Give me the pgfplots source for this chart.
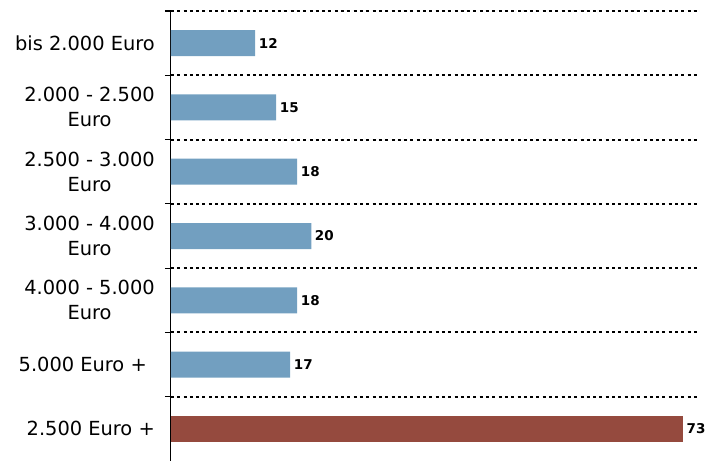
\documentclass[border=0pt]{standalone}
\usepackage{pgfplots}
\pgfplotsset{compat=1.18}
\usepackage{fontspec}
\setmainfont{DejaVu Sans}
\definecolor{barblue}{RGB}{114,159,192}
\definecolor{barred}{RGB}{149,74,62}
\begin{document}
\begin{tikzpicture}
\begin{axis}[
  at={(0,0)}, anchor=south west,
  scale only axis, width=526bp, height=450bp,
  /pgf/number format/assume math mode=true,
  xbar, bar width=26bp, bar shift=0pt,
  xmin=0, xmax=75, ymin=-0.5, ymax=6.5, y dir=reverse,
  hide x axis,
  axis y line*=left,
  y axis line style={line width=1bp, black},
  ytick={0,1,2,3,4,5,6},
  yticklabels={bis 2.000 Euro, {2.000 - 2.500\\Euro}, {2.500 - 3.000\\Euro}, {3.000 - 4.000\\Euro}, {4.000 - 5.000\\Euro}, {5.000 Euro +\hspace*{8bp}}, {2.500 Euro +}},
  yticklabel style={font=\fontsize{19.4bp}{25bp}\selectfont, align=center, inner sep=0pt, xshift=-16bp, text=black},
  major tick length=0pt,
  minor ytick={-0.5,0.5,1.5,2.5,3.5,4.5,5.5},
  minor tick length=6bp,
  tick align=outside,
  tick style={black, line width=1.2bp},
  yminorgrids,
  minor grid style={black, line width=2bp, dash pattern=on 3bp off 3.3bp},
  nodes near coords,
  nodes near coords style={font=\bfseries\fontsize{13.5bp}{16bp}\selectfont, anchor=west, inner sep=0pt, xshift=3.5bp, text=black},
  clip=false,
]
\addplot[fill=barblue, draw=none] coordinates {(12,0) (15,1) (18,2) (20,3) (18,4) (17,5)};
\addplot[fill=barred, draw=none] coordinates {(73,6)};
\end{axis}
\pgfresetboundingbox
\path[use as bounding box] (-171bp,0) rectangle (534bp,461bp);
\end{tikzpicture}
\end{document}
